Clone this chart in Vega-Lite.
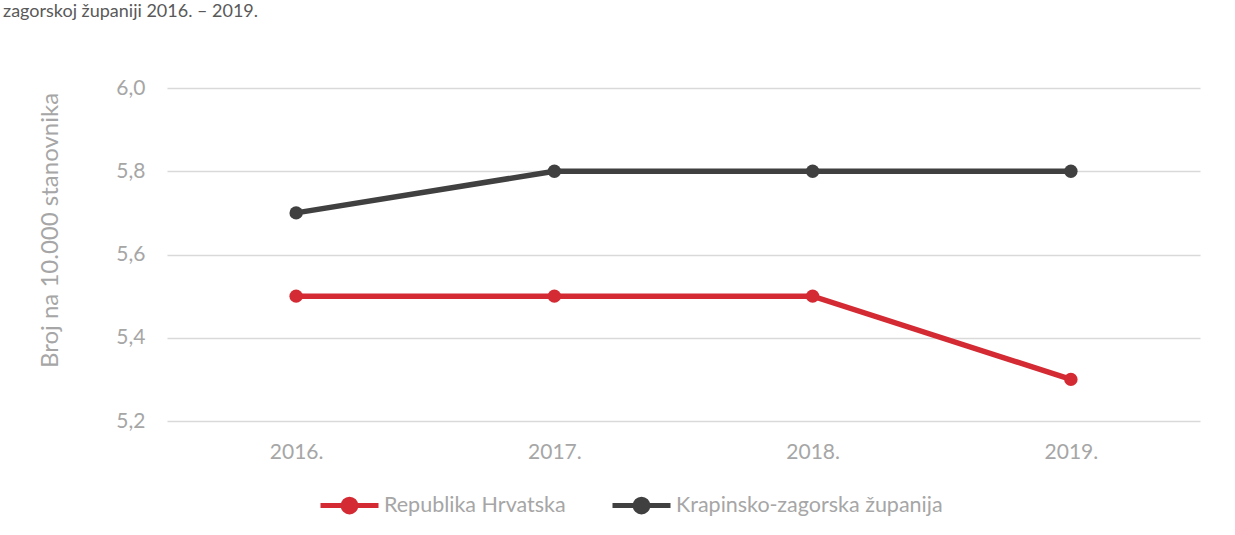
{
  "$schema": "https://vega.github.io/schema/vega-lite/v6.json",
  "autosize": {"type": "none"},
  "width": 1033,
  "height": 333,
  "padding": {"left": 167, "top": 88, "right": 35, "bottom": 114},
  "background": "white",
  "title": {
    "text": "zagorskoj županiji 2016. – 2019.",
    "anchor": "start",
    "frame": "group",
    "dx": -164,
    "dy": -52,
    "fontSize": 18,
    "font": "Lato",
    "fontWeight": "normal",
    "color": "#595959"
  },
  "config": {
    "view": {"stroke": null},
    "font": "Lato"
  },
  "data": {
    "values": [
      {"godina": "2016.", "serija": "Republika Hrvatska", "vrijednost": 5.5},
      {"godina": "2017.", "serija": "Republika Hrvatska", "vrijednost": 5.5},
      {"godina": "2018.", "serija": "Republika Hrvatska", "vrijednost": 5.5},
      {"godina": "2019.", "serija": "Republika Hrvatska", "vrijednost": 5.3},
      {"godina": "2016.", "serija": "Krapinsko-zagorska županija", "vrijednost": 5.7},
      {"godina": "2017.", "serija": "Krapinsko-zagorska županija", "vrijednost": 5.8},
      {"godina": "2018.", "serija": "Krapinsko-zagorska županija", "vrijednost": 5.8},
      {"godina": "2019.", "serija": "Krapinsko-zagorska županija", "vrijednost": 5.8}
    ]
  },
  "encoding": {
    "x": {
      "field": "godina",
      "type": "ordinal",
      "scale": {"type": "point", "padding": 0.5},
      "axis": {
        "title": null,
        "labelAngle": 0,
        "labelFontSize": 21,
        "labelColor": "#a6a6a6",
        "labelPadding": 20,
        "ticks": false,
        "domain": false,
        "grid": false
      }
    },
    "y": {
      "field": "vrijednost",
      "type": "quantitative",
      "scale": {"domain": [5.2, 6.0], "zero": false, "nice": false},
      "axis": {
        "title": "Broj na 10.000 stanovnika",
        "titleFontSize": 24,
        "titleFontWeight": "normal",
        "titleColor": "#a6a6a6",
        "titleX": -117,
        "titleY": 142,
        "titleAngle": 270,
        "titleAlign": "center",
        "titleBaseline": "middle",
        "values": [5.2, 5.4, 5.6, 5.8, 6.0],
        "format": ".1f",
        "labelExpr": "replace(datum.label, '.', ',')",
        "labelFontSize": 21,
        "labelColor": "#a6a6a6",
        "labelPadding": 22,
        "ticks": false,
        "domain": false,
        "gridColor": "#d9d9d9",
        "gridWidth": 1.5
      }
    },
    "color": {
      "field": "serija",
      "type": "nominal",
      "scale": {
        "domain": ["Republika Hrvatska", "Krapinsko-zagorska županija"],
        "range": ["#d42a33", "#404040"]
      },
      "legend": {
        "title": null,
        "orient": "none",
        "direction": "horizontal",
        "legendX": 151,
        "legendY": 386,
        "symbolType": "M-1,0H1M0.22,0A0.22,0.22,0,1,1,-0.22,0A0.22,0.22,0,1,1,0.22,0Z",
        "symbolSize": 3364,
        "symbolStrokeWidth": 5,
        "labelFontSize": 21.5,
        "labelColor": "#a6a6a6",
        "labelOffset": 3,
        "labelLimit": 0,
        "columnPadding": 36
      }
    }
  },
  "layer": [
    {"mark": {"type": "line", "strokeWidth": 5.5}},
    {"mark": {"type": "point", "filled": true, "opacity": 1, "size": 180}}
  ]
}
